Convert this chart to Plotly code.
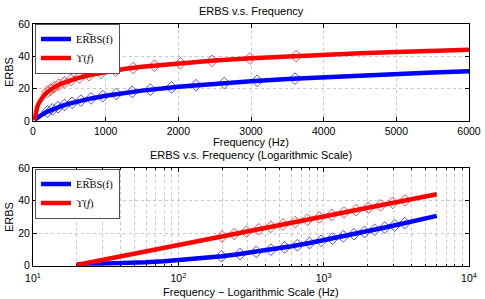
import plotly.graph_objects as go

# Curve samples (Hz) and values
freq = [20, 25, 30, 40, 50, 60, 80, 100, 125, 150, 200, 250, 300, 400, 500, 600, 800,
        1000, 1250, 1500, 2000, 2500, 3000, 3500, 4000, 4500, 5000, 5500, 6000]
erbs_line = [0.78, 0.96, 1.14, 1.50, 1.84, 2.16, 2.79, 3.37, 4.05, 4.69, 5.84, 6.86, 7.79,
             9.40, 10.77, 11.96, 13.97, 15.62, 17.34, 18.79, 21.16, 23.04, 24.60, 25.94,
             27.11, 28.15, 29.08, 29.93, 30.71]
ups_line = [0.4, 2.11, 3.50, 5.70, 7.40, 8.80, 11.00, 12.70, 14.41, 15.80, 18.0, 19.71, 21.10,
            23.30, 25.00, 26.40, 28.60, 30.50, 32.20, 33.60, 35.80, 37.45, 38.80, 39.95,
            40.95, 41.85, 42.65, 43.35, 44.00]

# Marker points
erbs_mk_f = [198, 266, 344, 434, 538, 659, 799, 961, 1148, 1365, 1616, 1907, 2243, 2633, 3084, 3606]
erbs_mk_v = [5.8, 7.16, 8.52, 9.88, 11.24, 12.6, 13.96, 15.32, 16.68, 18.04, 19.4, 20.76,
             22.12, 23.48, 24.84, 26.2]
ups_mk_f = [200, 243, 294, 357, 433, 525, 637, 773, 937, 1137, 1379, 1673, 2029, 2462, 2986, 3622]
ups_mk_v = [18.0, 19.49, 20.94, 22.43, 23.90, 25.38, 26.85, 28.33, 29.80, 31.28, 32.76, 34.23,
            35.71, 37.19, 38.66, 40.14]

# Tick labels
lin_ticks = [0, 1000, 2000, 3000, 4000, 5000, 6000]
log_ticks = [10, 100, 1000, 10000]
log_ticktext = ["10<sup>1</sup>", "10<sup>2</sup>", "10<sup>3</sup>", "10<sup>4</sup>"]
y_ticks = [0, 20, 40, 60]

BLUE = "#0000FF"
RED = "#FF0000"
W, H = 485, 299

fig = go.Figure()

for xa, ya, leg in [("x", "y", "legend"), ("x2", "y2", "legend2")]:
    fig.add_trace(go.Scatter(x=erbs_mk_f, y=erbs_mk_v, mode="markers", xaxis=xa, yaxis=ya,
                             marker=dict(symbol="diamond-open", size=9, color=BLUE, line=dict(width=0.7, color=BLUE)),
                             showlegend=False, hoverinfo="skip"))
    fig.add_trace(go.Scatter(x=ups_mk_f, y=ups_mk_v, mode="markers", xaxis=xa, yaxis=ya,
                             marker=dict(symbol="diamond-open", size=9, color=RED, line=dict(width=0.7, color=RED)),
                             showlegend=False, hoverinfo="skip"))
    fig.add_trace(go.Scatter(x=freq, y=erbs_line, mode="lines", xaxis=xa, yaxis=ya, name="ER\u0360BS(f)",
                             line=dict(color=BLUE, width=4.5), legend=leg))
    fig.add_trace(go.Scatter(x=freq, y=ups_line, mode="lines", xaxis=xa, yaxis=ya, name="ϒ(<i>f</i>)",
                             line=dict(color=RED, width=4.5), legend=leg))

xdom = [33 / W, 469 / W]
tick_font = dict(family="Liberation Sans, Arial, sans-serif", size=10.5, color="black")
axcommon = dict(showline=True, linecolor="black", linewidth=1, mirror="ticks", ticks="inside",
                ticklen=4, tickcolor="black", tickfont=tick_font, zeroline=False, automargin=False,
                showgrid=True, gridcolor="#c8c8c8", griddash="dot", gridwidth=1)

legcommon = dict(xanchor="left", yanchor="top", bgcolor="white", bordercolor="#505050", borderwidth=1,
                 font=dict(family="Liberation Serif, Times New Roman, serif", size=10.5, color="black"),
                 itemwidth=30, tracegroupgap=0)

fig.update_layout(
    width=W, height=H, margin=dict(l=0, r=0, t=0, b=0),
    paper_bgcolor="white", plot_bgcolor="white",
    xaxis=dict(domain=xdom, anchor="y", range=[0, 6000], tickvals=lin_ticks, **axcommon),
    yaxis=dict(domain=[1 - 121 / H, 1 - 24 / H], anchor="x", range=[0, 60], tickvals=y_ticks, **axcommon),
    xaxis2=dict(domain=xdom, anchor="y2", type="log", range=[1, 4], tickvals=log_ticks, ticktext=log_ticktext,
                ticklabelstandoff=3,
                minor=dict(dtick="D1", ticks="inside", ticklen=2, tickcolor="black", showgrid=True,
                           gridcolor="#c8c8c8", griddash="dot"),
                **axcommon),
    yaxis2=dict(domain=[1 - 265.7 / H, 1 - 168.3 / H], anchor="x2", range=[0, 60], tickvals=y_ticks, **axcommon),
    legend=dict(x=35 / W, y=1 - 23.5 / H, **legcommon),
    legend2=dict(x=35 / W, y=1 - 168.5 / H, **legcommon),
    showlegend=True,
)

txt_font = dict(family="Liberation Sans, Arial, sans-serif", size=11, color="black")
ann = [
    ("ERBS v.s. Frequency", 251, 11, 0),
    ("Frequency (Hz)", 251, 142, 0),
    ("ERBS v.s. Frequency (Logarithmic Scale)", 251, 155, 0),
    ("Frequency − Logarithmic Scale (Hz)", 251, 292, 0),
    ("ERBS", 9, 72, -90),
    ("ERBS", 9, 217, -90),
]
for t, x, y, rot in ann:
    fig.add_annotation(text=t, x=x / W, y=1 - y / H, xref="paper", yref="paper", showarrow=False,
                       font=txt_font, textangle=rot, xanchor="center", yanchor="middle")

fig.write_html("out.html", config={"displayModeBar": False},
               post_script="document.body.style.margin='0';")
